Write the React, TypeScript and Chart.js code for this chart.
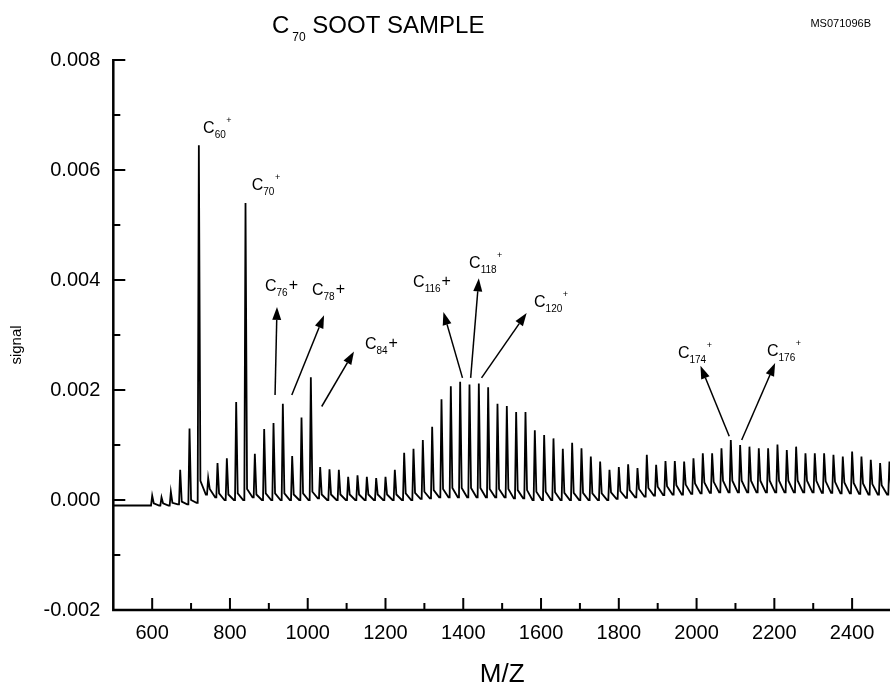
import React, { useEffect, useRef } from "react";
import { Chart, registerables } from "chart.js";

Chart.register(...registerables);

// ---- data (carbon cluster C_n, m/z = 12 n) ----
const carbonNumbers = [
  50, 52, 54, 56, 58, 60, 62, 64, 66, 68, 70, 72, 74, 76, 78, 80, 82, 84, 86, 88,
  90, 92, 94, 96, 98, 100, 102, 104, 106, 108, 110, 112, 114, 116, 118, 120, 122, 124, 126, 128,
  130, 132, 134, 136, 138, 140, 142, 144, 146, 148, 150, 152, 154, 156, 158, 160, 162, 164, 166, 168,
  170, 172, 174, 176, 178, 180, 182, 184, 186, 188, 190, 192, 194, 196, 198, 200, 202, 204, 206, 208,
];
const peakSignal = [
  0.00008, 0.00005, 0.00015, 0.00055, 0.0013, 0.00645, 0.0004, 0.00067, 0.00076, 0.00178,
  0.0054, 0.00084, 0.00129, 0.0014, 0.00175, 0.0008, 0.0015, 0.00223, 0.0006, 0.00056,
  0.00055, 0.00042, 0.00045, 0.00042, 0.0004, 0.00042, 0.00055, 0.00086, 0.00093, 0.00109,
  0.00133, 0.00183, 0.00207, 0.00215, 0.0021, 0.00212, 0.00205, 0.00175, 0.00171, 0.0016,
  0.0016, 0.00127, 0.00118, 0.00112, 0.00093, 0.00104, 0.00094, 0.00079, 0.0007, 0.00055,
  0.0006, 0.00065, 0.00058, 0.00082, 0.00064, 0.00071, 0.00071, 0.0007, 0.00076, 0.00085,
  0.00085, 0.00094, 0.00109, 0.001, 0.00097, 0.00094, 0.00094, 0.00101, 0.00091, 0.00097,
  0.00085, 0.00085, 0.00085, 0.00082, 0.00079, 0.00088, 0.00079, 0.00073, 0.00067, 0.0007,
];
// trace level just after each peak (the trailing shoulder)
const tailSignal = [
  -0.00006, -0.00006, -0.00005, -0.00003, 0.0, 0.00035, 0.0002, 0.00012, 0.0001, 0.00012,
  0.0002, 0.0001, 0.00012, 0.00012, 0.00012, 0.0001, 0.00012, 0.00015, 0.0001, 0.0001,
  0.0001, 0.0001, 0.0001, 0.0001, 0.0001, 0.0001, 0.0001, 0.00012, 0.00013, 0.00015,
  0.00018, 0.0002, 0.00022, 0.00022, 0.00022, 0.00022, 0.0002, 0.0002, 0.0002, 0.00018,
  0.00018, 0.00015, 0.00015, 0.00014, 0.00013, 0.00013, 0.00013, 0.00012, 0.00012, 0.00014,
  0.00016, 0.00018, 0.0002, 0.00022, 0.00024, 0.00025, 0.00027, 0.00028, 0.0003, 0.00032,
  0.00033, 0.00035, 0.00035, 0.00035, 0.00035, 0.00035, 0.00035, 0.00035, 0.00035, 0.00035,
  0.00035, 0.00035, 0.00034, 0.00033, 0.00032, 0.00031, 0.0003, 0.00029, 0.00027, 0.00026,
];
// trace level in the trough before each peak
const valleySignal = [
  -0.0001, -0.0001, -0.0001, -0.00008, -0.00008, -0.00005, 0.0001, 0.00005, 0.0, 0.0,
  0.0, 0.00005, 0.0, 0.0, 0.0, 0.0, 0.0, 0.0, 0.00003, 0.0,
  0.0, 0.0, 0.0, 0.0, 0.0, 0.0, 0.0, 0.0, 0.0, 0.00002,
  0.00003, 0.00005, 0.00005, 0.00005, 0.00005, 0.00005, 0.00005, 0.00005, 0.00005, 0.00003,
  0.00003, 0.0, 0.0, 0.0, 0.0, 0.0, 0.0, 0.0, 0.0, 0.0,
  0.00002, 0.00004, 0.00005, 0.00006, 0.00008, 0.00009, 0.0001, 0.0001, 0.00011, 0.00012,
  0.00013, 0.00014, 0.00014, 0.00014, 0.00014, 0.00014, 0.00014, 0.00014, 0.00014, 0.00014,
  0.00014, 0.00014, 0.00013, 0.00013, 0.00012, 0.00012, 0.00011, 0.0001, 0.0001, 0.0001,
];
const baselineStartSignal = -0.0001;

const xRange = [500, 2500];
const yRange = [-0.002, 0.008];
const xMajorTicks = [600, 800, 1000, 1200, 1400, 1600, 1800, 2000, 2200, 2400];
const xMinorTicks = [700, 900, 1100, 1300, 1500, 1700, 1900, 2100, 2300];
const yMajorTicks = [-0.002, 0.0, 0.002, 0.004, 0.006, 0.008];
const yMinorTicks = [-0.001, 0.001, 0.003, 0.005, 0.007];

// annotation labels (data coordinates of the "C" baseline start)
const labelSubs = ["60", "70", "76", "78", "84", "116", "118", "120", "174", "176"];
const labelPlus = ["sup", "sup", "inline", "inline", "inline", "inline", "sup", "sup", "sup", "sup"];
const labelMz = [731, 856, 890, 1011, 1147, 1271, 1415, 1582, 1952, 2181];
const labelSignal = [0.00667, 0.00564, 0.0038, 0.00373, 0.00275, 0.00387, 0.00422, 0.00351, 0.00258, 0.00262];

// arrows (data coordinates: tail -> head)
const arrowFromMz = [916, 959, 1036, 1398, 1419, 1447, 2084, 2116];
const arrowFromSignal = [0.00191, 0.00191, 0.0017, 0.00222, 0.00222, 0.00222, 0.00116, 0.00109];
const arrowToMz = [921, 1042, 1119, 1349, 1440, 1563, 2010, 2202];
const arrowToSignal = [0.00351, 0.00336, 0.0027, 0.00342, 0.00403, 0.0034, 0.00244, 0.00249];

const FONT = '"Liberation Sans", Arial, Helvetica, sans-serif';

function buildSpectrum() {
  const pts: { x: number; y: number }[] = [{ x: xRange[0], y: baselineStartSignal }];
  carbonNumbers.forEach((n, i) => {
    const mz = 12 * n;
    pts.push({ x: mz - 3, y: valleySignal[i] });
    pts.push({ x: mz, y: peakSignal[i] });
    pts.push({ x: mz + 4, y: tailSignal[i] });
    pts.push({ x: mz + 18, y: valleySignal[Math.min(i + 1, valleySignal.length - 1)] });
  });
  pts.push({ x: xRange[1] + 20, y: valleySignal[valleySignal.length - 1] });
  return pts;
}

const decorPlugin = {
  id: "decor",
  afterDraw(chart: any) {
    const ctx: CanvasRenderingContext2D = chart.ctx;
    const xs = chart.scales.x;
    const ys = chart.scales.y;
    const left = xs.getPixelForValue(xRange[0]);
    const right = xs.getPixelForValue(xRange[1]);
    const top = ys.getPixelForValue(yRange[1]);
    const bottom = ys.getPixelForValue(yRange[0]);
    ctx.save();
    ctx.strokeStyle = "#000";
    ctx.fillStyle = "#000";
    ctx.lineCap = "butt";

    // axes
    ctx.lineWidth = 2.5;
    ctx.beginPath();
    ctx.moveTo(left, top - 1);
    ctx.lineTo(left, bottom);
    ctx.lineTo(right + 2, bottom);
    ctx.stroke();

    // ticks (inward)
    ctx.lineWidth = 2;
    ctx.beginPath();
    xMajorTicks.forEach((v) => {
      const p = xs.getPixelForValue(v);
      ctx.moveTo(p, bottom);
      ctx.lineTo(p, bottom - 12);
    });
    xMinorTicks.forEach((v) => {
      const p = xs.getPixelForValue(v);
      ctx.moveTo(p, bottom);
      ctx.lineTo(p, bottom - 7);
    });
    yMajorTicks.forEach((v) => {
      const p = ys.getPixelForValue(v);
      ctx.moveTo(left, p);
      ctx.lineTo(left + 12, p);
    });
    yMinorTicks.forEach((v) => {
      const p = ys.getPixelForValue(v);
      ctx.moveTo(left, p);
      ctx.lineTo(left + 7, p);
    });
    ctx.stroke();

    // arrows
    ctx.lineWidth = 1.5;
    arrowFromMz.forEach((_, i) => {
      const x1 = xs.getPixelForValue(arrowFromMz[i]);
      const y1 = ys.getPixelForValue(arrowFromSignal[i]);
      const x2 = xs.getPixelForValue(arrowToMz[i]);
      const y2 = ys.getPixelForValue(arrowToSignal[i]);
      const ang = Math.atan2(y2 - y1, x2 - x1);
      const headLen = 13;
      const halfW = 4.5;
      const bx = x2 - headLen * Math.cos(ang);
      const by = y2 - headLen * Math.sin(ang);
      ctx.beginPath();
      ctx.moveTo(x1, y1);
      ctx.lineTo(bx, by);
      ctx.stroke();
      ctx.beginPath();
      ctx.moveTo(x2, y2);
      ctx.lineTo(bx + halfW * Math.sin(ang), by - halfW * Math.cos(ang));
      ctx.lineTo(bx - halfW * Math.sin(ang), by + halfW * Math.cos(ang));
      ctx.closePath();
      ctx.fill();
    });

    // peak labels
    ctx.textBaseline = "alphabetic";
    ctx.textAlign = "left";
    labelSubs.forEach((sub, i) => {
      const x = xs.getPixelForValue(labelMz[i]);
      const y = ys.getPixelForValue(labelSignal[i]);
      ctx.font = `16px ${FONT}`;
      ctx.fillText("C", x, y);
      const wC = ctx.measureText("C").width;
      ctx.font = `10px ${FONT}`;
      ctx.fillText(sub, x + wC, y + 5);
      const wS = ctx.measureText(sub).width;
      if (labelPlus[i] === "sup") {
        ctx.font = `9px ${FONT}`;
        ctx.fillText("+", x + wC + wS + 0.5, y - 10);
      } else {
        ctx.font = `16px ${FONT}`;
        ctx.fillText("+", x + wC + wS + 1, y - 1);
      }
    });

    // title
    ctx.font = `24px ${FONT}`;
    ctx.fillText("C", 272, 33);
    const tw = ctx.measureText("C").width;
    ctx.font = `12px ${FONT}`;
    ctx.fillText("70", 272 + tw + 3, 41);
    const sw = ctx.measureText("70").width;
    ctx.font = `24px ${FONT}`;
    ctx.fillText(" SOOT SAMPLE", 272 + tw + 3 + sw, 33);

    // sample id
    ctx.font = `11px ${FONT}`;
    ctx.textAlign = "right";
    ctx.fillText("MS071096B", 871, 27);

    // axis titles
    ctx.textAlign = "center";
    ctx.font = `26px ${FONT}`;
    ctx.fillText("M/Z", (left + right) / 2, 682);

    ctx.save();
    ctx.translate(21, 345);
    ctx.rotate(-Math.PI / 2);
    ctx.font = `15px ${FONT}`;
    ctx.textAlign = "center";
    ctx.fillText("signal", 0, 0);
    ctx.restore();

    ctx.restore();
  },
};

export default function App() {
  const canvasRef = useRef<HTMLCanvasElement | null>(null);

  useEffect(() => {
    const canvas = canvasRef.current;
    if (!canvas) return;
    const chart = new Chart(canvas, {
      type: "line",
      data: {
        datasets: [
          {
            data: buildSpectrum(),
            borderColor: "#000",
            borderWidth: 1.8,
            pointRadius: 0,
            tension: 0,
            fill: false,
          },
        ],
      },
      options: {
        responsive: false,
        animation: false,
        devicePixelRatio: 1,
        layout: { padding: { left: 0, top: 60, right: 2, bottom: 0 } },
        plugins: {
          legend: { display: false },
          title: { display: false },
          tooltip: { enabled: false },
        },
        scales: {
          x: {
            type: "linear",
            min: xRange[0],
            max: xRange[1],
            grid: { display: false, drawTicks: false },
            border: { display: false },
            afterBuildTicks: (s: any) => {
              s.ticks = xMajorTicks.map((v) => ({ value: v }));
            },
            afterFit: (s: any) => {
              s.height = 78;
            },
            ticks: {
              color: "#000",
              font: { family: FONT, size: 20 },
              padding: 11,
              maxRotation: 0,
              autoSkip: false,
              callback: (v: any) => String(v),
            },
          },
          y: {
            type: "linear",
            min: yRange[0],
            max: yRange[1],
            grid: { display: false, drawTicks: false },
            border: { display: false },
            afterBuildTicks: (s: any) => {
              s.ticks = yMajorTicks.map((v) => ({ value: v }));
            },
            afterFit: (s: any) => {
              s.width = 113.3;
            },
            ticks: {
              color: "#000",
              font: { family: FONT, size: 20 },
              padding: 13,
              autoSkip: false,
              callback: (v: any) => Number(v).toFixed(3),
            },
          },
        },
      },
      plugins: [decorPlugin],
    });
    return () => chart.destroy();
  }, []);

  return (
    <div
      style={{
        position: "fixed",
        left: 0,
        top: 0,
        width: 890,
        height: 688,
        overflow: "hidden",
        background: "#fff",
      }}
    >
      <canvas ref={canvasRef} width={893} height={688} style={{ display: "block" }} />
    </div>
  );
}
